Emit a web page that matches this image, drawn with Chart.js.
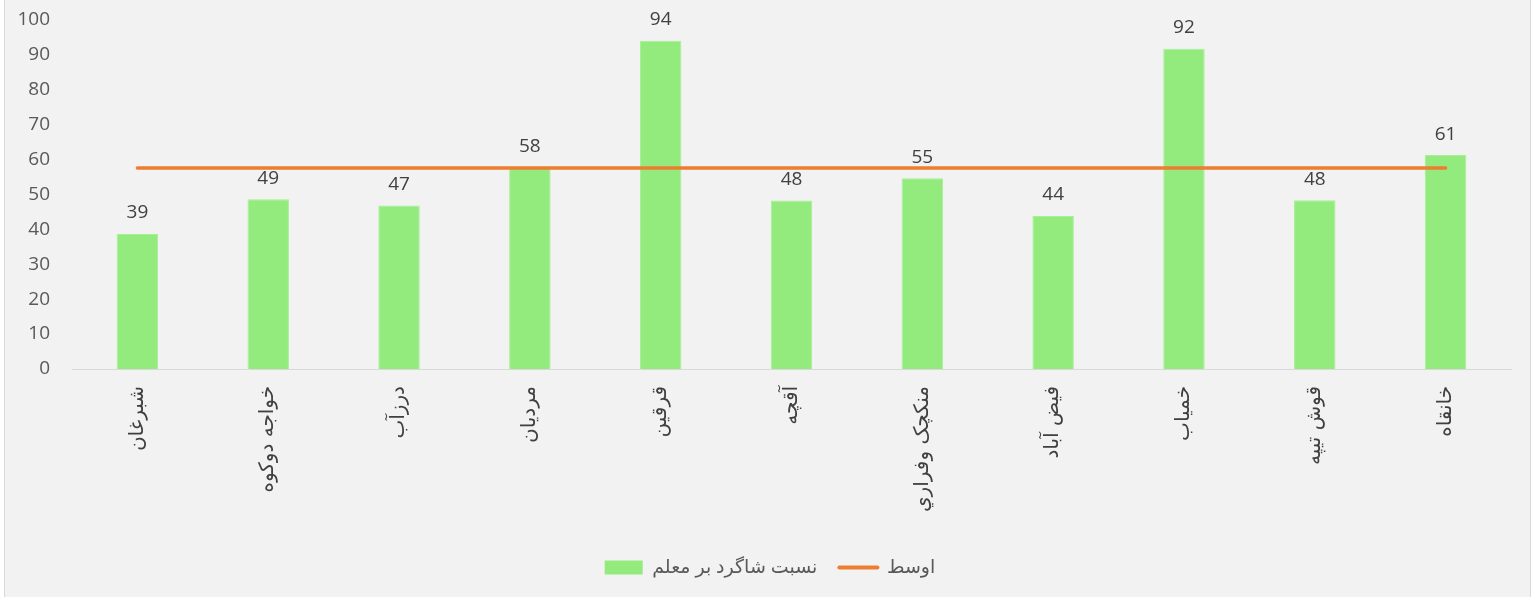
<!DOCTYPE html>
<html>
<head>
<meta charset="utf-8">
<script src="https://cdn.jsdelivr.net/npm/chart.js@4.4.1/dist/chart.umd.min.js"></script>
<style>
  html, body { margin: 0; padding: 0; background: #ffffff; }
  #wrap { position: absolute; left: 4px; top: 0; width: 1525px; height: 597px;
          background: #f2f2f2; border-left: 1px solid #d9d9d9; border-right: 1px solid #d9d9d9; }
  canvas { display: block; }
</style>
</head>
<body>
<div id="wrap"><canvas id="c" width="1525" height="597"></canvas></div>
<script>
const categories = ["شبرغان", "خواجه دوکوه", "درزآب", "مردیان", "قرقین", "آقچه", "منکچک وفراري", "فیض آباد", "خمیاب", "قوش تیپه", "خانقاه"];
const ratioValues = [38.6, 48.6, 46.8, 57.6, 93.9, 48.2, 54.6, 43.8, 91.6, 48.3, 61.2];
const averageValues = [57.5, 57.5, 57.5, 57.5, 57.5, 57.5, 57.5, 57.5, 57.5, 57.5, 57.5];
const seriesNames = ["نسبت شاگرد بر معلم", "اوسط"];
const yTicks = [0, 10, 20, 30, 40, 50, 60, 70, 80, 90, 100];

const FONT = "'Open Sans', 'DejaVu Sans', sans-serif";

const dataLabels = {
  id: 'dataLabels',
  afterDatasetsDraw(chart) {
    const ctx = chart.ctx;
    const meta = chart.getDatasetMeta(0);
    ctx.save();
    ctx.font = "19px " + FONT;
    ctx.fillStyle = '#404040';
    ctx.textAlign = 'center';
    ctx.textBaseline = 'middle';
    meta.data.forEach((el, i) => {
      ctx.fillText(String(Math.round(ratioValues[i])), el.x, el.y - 21);
    });
    ctx.restore();
  }
};

const legendShift = {
  id: 'legendShift',
  afterLayout(chart) {
    if (chart.legend) { chart.legend.left += 12; chart.legend.right += 12; }
  }
};

new Chart(document.getElementById('c'), {
  data: {
    labels: categories,
    datasets: [
      {
        type: 'bar',
        label: seriesNames[0],
        data: ratioValues,
        backgroundColor: '#93eb7e',
        borderColor: '#a6ef95',
        borderWidth: 1,
        categoryPercentage: 1,
        barPercentage: 0.317,
        order: 2
      },
      {
        type: 'line',
        label: seriesNames[1],
        data: averageValues,
        borderColor: '#ed7d31',
        backgroundColor: '#ed7d31',
        borderWidth: 3.5,
        borderCapStyle: 'round',
        pointRadius: 0,
        fill: false,
        order: 1
      }
    ]
  },
  options: {
    responsive: false,
    animation: false,
    layout: { padding: { left: 0, right: 19, top: 19.5, bottom: 10 } },
    plugins: {
      tooltip: { enabled: false },
      legend: {
        position: 'bottom',
        labels: {
          usePointStyle: true,
          pointStyleWidth: 38,
          boxHeight: 14,
          padding: 22,
          color: '#595959',
          font: { family: FONT, size: 19 },
          generateLabels(chart) {
            return chart.data.datasets.map((ds, i) => ({
              text: ds.label,
              datasetIndex: i,
              fillStyle: ds.type === 'bar' ? ds.backgroundColor : ds.borderColor,
              strokeStyle: ds.type === 'bar' ? ds.backgroundColor : ds.borderColor,
              lineWidth: ds.type === 'bar' ? 0 : 4,
              lineCap: 'round',
              pointStyle: ds.type === 'bar' ? 'rect' : 'line',
              fontColor: '#595959',
              hidden: false
            }));
          }
        }
      }
    },
    scales: {
      x: {
        grid: { display: false, drawTicks: false },
        border: { display: true, color: '#d9d9d9', width: 1 },
        ticks: {
          minRotation: 90,
          maxRotation: 90,
          autoSkip: false,
          padding: 17,
          color: '#404040',
          font: { family: "'DejaVu Sans', sans-serif", size: 20 }
        },
        afterFit(scale) { scale.height = 167; }
      },
      y: {
        min: 0,
        max: 100,
        afterBuildTicks(scale) { scale.ticks = yTicks.map(v => ({ value: v })); },
        grid: { display: false, drawTicks: true, tickLength: 16 },
        border: { display: false },
        ticks: {
          padding: 6,
          color: '#595959',
          font: { family: FONT, size: 19 }
        },
        afterFit(scale) { scale.width = 67; }
      }
    }
  },
  plugins: [dataLabels, legendShift]
});
</script>
</body>
</html>
